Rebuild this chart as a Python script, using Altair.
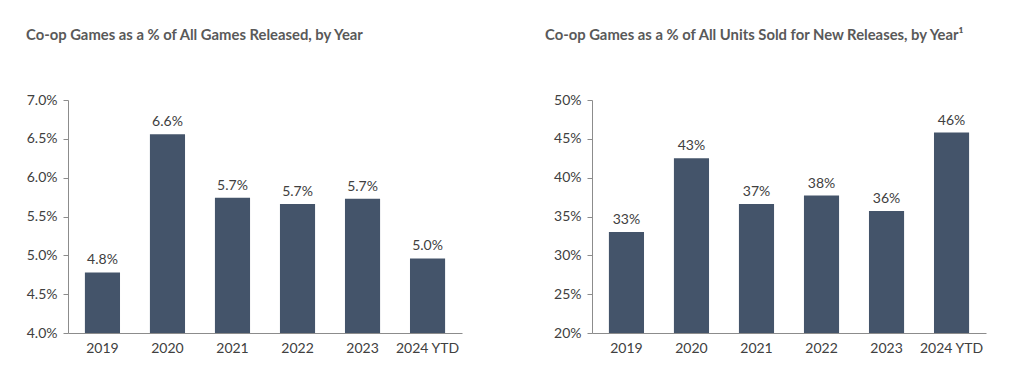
import altair as alt
import pandas as pd

years = ["2019", "2020", "2021", "2022", "2023", "2024 YTD"]
games_share = [4.78, 6.56, 5.74, 5.66, 5.73, 4.96]
games_labels = ["4.8%", "6.6%", "5.7%", "5.7%", "5.7%", "5.0%"]
units_share = [33.0, 42.5, 36.6, 37.7, 35.7, 45.8]
units_labels = ["33%", "43%", "37%", "38%", "36%", "46%"]
games_ticks = [4.0, 4.5, 5.0, 5.5, 6.0, 6.5, 7.0]
units_ticks = [20, 25, 30, 35, 40, 45, 50]

title_left = "Co-op Games as a % of All Games Released, by Year"
title_right = "Co-op Games as a % of All Units Sold for New Releases, by Year\u00b9"

FONT = "Lato"
BAR = "#44546A"
TXT = "#404040"
AX = "#8C8C8C"


def panel(values, labels, ticks, fmt, title, dx):
    lo, hi = ticks[0], ticks[-1]
    df = pd.DataFrame({"year": years, "v": values, "lab": labels})
    x = alt.X("year:N", sort=years, title=None,
              scale=alt.Scale(paddingInner=0.46, paddingOuter=0.26),
              axis=alt.Axis(labelAngle=0, ticks=False, labelPadding=8,
                            domainColor=AX, labelColor=TXT, labelFontSize=14,
                            labelFont=FONT))
    y = alt.Y("v:Q", title=None,
              scale=alt.Scale(domain=[lo, hi], zero=False, nice=False),
              axis=alt.Axis(values=ticks, grid=False, domainColor=AX, tickColor=AX,
                            tickSize=5, labelPadding=6, labelColor=TXT,
                            labelFontSize=14, labelFont=FONT, labelOverlap=False,
                            labelExpr="format(datum.value, '" + fmt + "') + '%'"))
    base = alt.Chart(df)
    bars = base.mark_bar(color=BAR).encode(x=x, y=y, y2=alt.datum(lo))
    text = base.mark_text(baseline="bottom", dy=-5, fontSize=14, font=FONT,
                          color=TXT).encode(x=x, y=y, text="lab:N")
    return alt.layer(bars, text).properties(
        width=394, height=233,
        title=alt.TitleParams(title, anchor="start", frame="group", dx=dx,
                              fontSize=14.8, font=FONT, fontWeight="bold",
                              color="#595959", offset=50),
    )


left = panel(games_share, games_labels, games_ticks, ".1f", title_left, -42)
right = panel(units_share, units_labels, units_ticks, ".0f", title_right, -47)

chart = alt.hconcat(left, right, spacing=83).configure_view(stroke=None).properties(
    padding={"left": 18, "top": 20, "right": 5, "bottom": 5}
)

chart.save("out.html", embed_options={"renderer": "svg", "actions": False})
